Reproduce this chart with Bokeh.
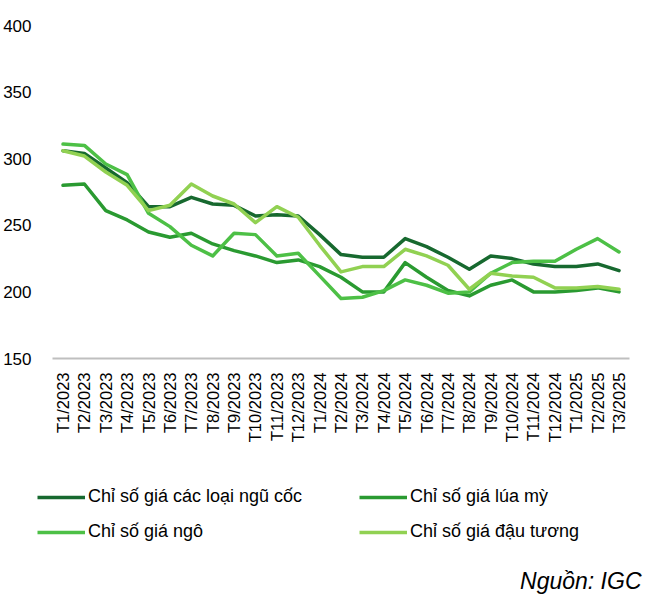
from bokeh.plotting import figure
from bokeh.layouts import column
from bokeh.models import Range1d, Legend, LegendItem, Label, FixedTicker
from bokeh.embed import file_html
from bokeh.resources import INLINE
import math

months = ["T1/2023", "T2/2023", "T3/2023", "T4/2023", "T5/2023", "T6/2023",
          "T7/2023", "T8/2023", "T9/2023", "T10/2023", "T11/2023", "T12/2023",
          "T1/2024", "T2/2024", "T3/2024", "T4/2024", "T5/2024", "T6/2024",
          "T7/2024", "T8/2024", "T9/2024", "T10/2024", "T11/2024", "T12/2024",
          "T1/2025", "T2/2025", "T3/2025"]

cereals = [306, 304, 293, 282, 264, 264, 271, 266, 265, 257, 258, 257, 243, 228,
           226, 226, 240, 234, 226, 217, 227, 225, 221, 219, 219, 221, 216]
wheat = [280, 281, 261, 254, 245, 241, 244, 236, 231, 227, 222, 224, 219, 211,
         200, 200, 222, 211, 201, 197, 205, 209, 200, 200, 201, 203, 200]
corn = [311, 310, 296, 288, 259, 249, 235, 227, 244, 243, 227, 229, 212, 195,
        196, 201, 209, 205, 199, 200, 214, 222, 223, 223, 232, 240, 230]
soy = [306, 302, 290, 280, 261, 265, 281, 272, 266, 252, 264, 256, 235, 215,
       219, 219, 232, 227, 220, 202, 214, 212, 211, 203, 203, 204, 202]

series_names = ["Chỉ số giá các loại ngũ cốc", "Chỉ số giá lúa mỳ",
                "Chỉ số giá ngô", "Chỉ số giá đậu tương"]
series_colors = ["#17692f", "#2a9a31", "#4dc046", "#91d152"]
y_ticks = [150, 200, 250, 300, 350, 400]
source_text = "Nguồn: IGC"

FONT = "Liberation Sans"
series = [cereals, wheat, corn, soy]
n = len(months)
xs = list(range(n))

# layout geometry (pixels, figure coordinates)
W = 647
BORDER_L = 29             # frame left
AXIS_L, AXIS_R = 44, 629  # category axis extent
pitch = (AXIS_R - AXIS_L) / n
x_start = -0.5 - (AXIS_L - BORDER_L) / pitch
x_end = x_start + (W - BORDER_L) / pitch

# ---- main chart ----
p = figure(width=W, height=448, output_backend="svg", toolbar_location=None,
           x_range=Range1d(x_start, x_end), y_range=Range1d(150, 400),
           min_border_left=BORDER_L, min_border_right=0, min_border_top=25,
           min_border_bottom=90)
p.outline_line_color = None
p.background_fill_color = "white"
p.border_fill_color = "white"
p.xgrid.grid_line_color = None
p.ygrid.grid_line_color = None

p.yaxis.ticker = FixedTicker(ticks=y_ticks)
p.yaxis.axis_line_color = None
p.yaxis.major_tick_line_color = None
p.yaxis.minor_tick_line_color = None
p.yaxis.major_label_standoff = 0
p.yaxis.major_label_text_font = FONT
p.yaxis.major_label_text_font_size = "17px"
p.yaxis.major_label_text_color = "#000000"

p.xaxis.ticker = FixedTicker(ticks=xs)
p.xaxis.major_label_overrides = {i: m for i, m in enumerate(months)}
p.xaxis.bounds = (-0.5, n - 0.5)
p.xaxis.axis_line_color = "#bfbfbf"
p.xaxis.axis_line_width = 2
p.xaxis.major_tick_line_color = None
p.xaxis.minor_tick_line_color = None
p.xaxis.major_label_orientation = math.pi / 2
p.xaxis.major_label_standoff = 8
p.xaxis.major_label_text_font = FONT
p.xaxis.major_label_text_font_size = "16.5px"
p.xaxis.major_label_text_color = "#000000"

for vals, col in zip(series, series_colors):
    p.line(xs, vals, line_color=col, line_width=3.5, line_join="round",
           line_cap="round")

# ---- legend + source strip ----
QH = 146
q = figure(width=W, height=QH, output_backend="svg", toolbar_location=None,
           x_range=Range1d(0, 1), y_range=Range1d(0, 1),
           x_axis_location=None, y_axis_location=None,
           min_border_left=BORDER_L, min_border_right=0, min_border_top=0,
           min_border_bottom=0)
q.outline_line_color = None
q.xgrid.grid_line_color = None
q.ygrid.grid_line_color = None
q.background_fill_color = "white"
q.border_fill_color = "white"

# legend proxies: same series, lying outside this strip's visible range
proxies = []
for vals, col in zip(series, series_colors):
    proxies.append(q.line(xs, vals, line_color=col, line_width=3.5))

items = [LegendItem(label=nm, renderers=[r]) for nm, r in zip(series_names, proxies)]
# legend fills column by column: order so rows read cereals|wheat, corn|soy
legend_order = [0, 2, 1, 3]
legend = Legend(items=[items[i] for i in legend_order], ncols=2, location=(0, 52),
                label_text_font=FONT, label_text_font_size="18px",
                label_text_color="#000000",
                glyph_width=48, glyph_height=20, label_standoff=3,
                label_height=20, label_width=257, spacing=14,
                padding=0, margin=0, border_line_color=None,
                background_fill_alpha=0)
q.add_layout(legend, "center")

src = Label(x=604, y=14, x_units="screen", y_units="screen", text=source_text,
            text_font=FONT, text_font_size="23px",
            text_font_style="italic", text_align="right", text_baseline="middle",
            text_color="#000000")
q.add_layout(src)

layout = column(p, q, spacing=0)
open("out.html", "w").write(file_html(layout, INLINE))
